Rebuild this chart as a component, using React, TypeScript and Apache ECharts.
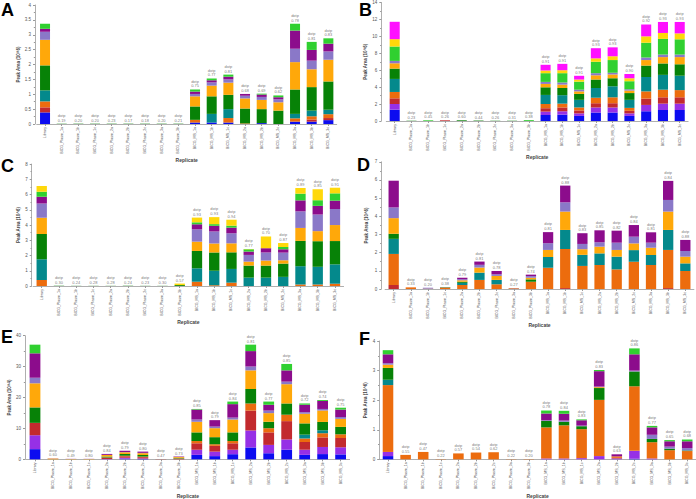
import React, { useEffect, useRef } from "react";
import * as echarts from "echarts";

const categories = [
  "Library",
  "BICG_Plasm_1a", "BICG_Plasm_1b", "BICG_Plasm_1c", "BICG_Plasm_2a",
  "BICG_Plasm_2b", "BICG_Plasm_2c", "BICG_Plasm_3a", "BICG_Plasm_3b",
  "BICG_MS_1a", "BICG_MS_1b", "BICG_MS_1c", "BICG_MS_2a", "BICG_MS_2b",
  "BICG_MS_2c", "BICG_MS_3a", "BICG_MS_3b", "BICG_MS_3c",
];

const COLORS: Record<string, string> = {
  blue: "#0c0cf0", violet: "#9630e6", red: "#c22a2e", orange: "#ec6c0e",
  teal: "#04898c", green: "#078207", amber: "#ffa80a", lavender: "#8a78c8",
  purple: "#8c0c8c", lime: "#30d030", gold: "#ffd80a", magenta: "#ff10ff",
};

// Panel A (Peak Area, 0-4)
const A_blue = [0.39, 0, 0, 0, 0, 0, 0, 0, 0, 0.05, 0.05, 0.05, 0, 0.03, 0, 0.08, 0.08, 0.13];
const A_red = [0.17, 0, 0, 0, 0, 0, 0, 0, 0, 0, 0, 0, 0, 0, 0, 0, 0.07, 0.07];
const A_orange = [0.2, 0, 0, 0, 0, 0, 0, 0, 0, 0.09, 0, 0.15, 0.02, 0, 0, 0.11, 0.11, 0.13];
const A_teal = [0.37, 0, 0, 0, 0, 0, 0, 0, 0, 0, 0.29, 0.3, 0, 0, 0, 0.15, 0.19, 0.15];
const A_green = [0.84, 0.01, 0.01, 0.01, 0.01, 0.01, 0.01, 0.01, 0.01, 0.45, 0.59, 0.48, 0.5, 0.47, 0.45, 0.82, 0.79, 0.95];
const A_amber = [0.86, 0, 0, 0, 0, 0, 0, 0, 0, 0.34, 0.36, 0.41, 0.34, 0.31, 0.28, 0.92, 0.6, 0.73];
const A_lavender = [0.27, 0, 0, 0, 0, 0, 0, 0, 0, 0.08, 0.11, 0.11, 0.09, 0.1, 0.1, 0.45, 0.29, 0.28];
const A_purple = [0.1, 0, 0, 0, 0, 0, 0, 0, 0, 0.08, 0.07, 0.09, 0.06, 0.08, 0.07, 0.61, 0.36, 0.26];
const A_lime = [0.17, 0, 0, 0, 0, 0, 0, 0, 0, 0.07, 0.06, 0.07, 0, 0.03, 0.06, 0.23, 0.27, 0.18];
const A_dotp = [null, 0.19, 0.2, 0.2, 0.23, 0.17, 0.18, 0.2, 0.21, 0.75, 0.77, 0.81, 0.68, 0.69, 0.62, 0.78, 0.81, 0.83];

// Panel B (0-14)
const B_blue = [1.34, 0, 0, 0, 0, 0, 0, 0, 0, 0.71, 0.75, 0.6, 1.0, 1.0, 0.6, 1.15, 1.3, 1.3];
const B_violet = [0.67, 0, 0, 0, 0, 0, 0, 0, 0, 0.4, 0.4, 0.3, 0.6, 0.6, 0.3, 0.75, 0.75, 0.75];
const B_red = [0.67, 0, 0, 0.08, 0, 0, 0, 0, 0, 0.4, 0.45, 0.35, 0.5, 0.5, 0.3, 0.75, 0.75, 0.75];
const B_orange = [0.75, 0, 0, 0, 0, 0, 0, 0, 0, 0.5, 0.45, 0.35, 0.65, 0.7, 0.35, 0.85, 0.9, 0.85];
const B_teal = [1.54, 0, 0, 0, 0, 0, 0, 0, 0, 1.07, 1.0, 0.9, 1.15, 1.3, 0.95, 1.7, 1.75, 1.7];
const B_green = [1.22, 0.03, 0, 0, 0.08, 0.05, 0.03, 0.03, 0, 0.9, 0.85, 0.7, 1.0, 0.95, 0.8, 1.35, 1.35, 1.35];
const B_amber = [0.63, 0, 0, 0, 0, 0, 0, 0, 0, 0.4, 0.4, 0.3, 0.5, 0.45, 0.3, 0.65, 0.75, 0.85];
const B_lavender = [0.28, 0, 0, 0, 0, 0, 0, 0, 0, 0.24, 0.25, 0.2, 0.25, 0.2, 0.15, 0.3, 0.3, 0.3];
const B_lime = [1.7, 0, 0.08, 0, 0, 0, 0, 0, 0.1, 1.03, 1.1, 0.95, 1.35, 1.5, 0.95, 1.75, 1.85, 1.8];
const B_gold = [0.87, 0, 0, 0, 0, 0, 0, 0, 0, 0.32, 0.35, 0.25, 0.4, 0.45, 0.35, 0.75, 0.7, 0.7];
const B_magenta = [2.05, 0, 0, 0, 0, 0, 0, 0, 0, 0.67, 0.75, 0.44, 1.2, 1.05, 0.5, 1.4, 1.3, 1.35];
const B_dotp = [null, 0.23, 0.45, 0.26, 0.6, 0.44, 0.26, 0.31, 0.38, 0.91, 0.91, 0.91, 0.93, 0.93, 0.9, 0.92, 0.93, 0.93];

// Panel C (0-8)
const C_orange = [0.39, 0, 0, 0, 0, 0, 0, 0, 0, 0.28, 0.05, 0.22, 0, 0, 0, 0.1, 0.1, 0.15];
const C_teal = [1.36, 0, 0, 0, 0, 0, 0, 0, 0, 0.88, 0.95, 0.9, 0.55, 0.55, 0.6, 1.2, 1.16, 1.27];
const C_green = [1.66, 0.01, 0.01, 0.01, 0.01, 0.01, 0.01, 0.01, 0.06, 1.14, 1.2, 1.09, 0.79, 0.79, 0.87, 1.66, 1.68, 1.53];
const C_amber = [1.07, 0, 0, 0, 0, 0, 0, 0, 0, 0.61, 0.59, 0.59, 0.26, 0.33, 0.22, 0.85, 0.66, 1.05];
const C_lavender = [0.94, 0, 0, 0, 0, 0, 0, 0, 0, 0.81, 0.79, 0.66, 0.44, 0.53, 0.5, 1.09, 1.09, 1.05];
const C_purple = [0.44, 0, 0, 0, 0, 0, 0, 0, 0, 0.33, 0.37, 0.37, 0.22, 0.28, 0.22, 0.72, 0.57, 0.55];
const C_lime = [0.33, 0, 0, 0, 0, 0, 0, 0, 0, 0.13, 0.11, 0.13, 0.15, 0, 0.15, 0.44, 0.37, 0.48];
const C_gold = [0.37, 0, 0, 0, 0, 0, 0, 0, 0.1, 0.31, 0.46, 0.39, 0.02, 0.77, 0.26, 0.37, 0.72, 0.37];
const C_dotp = [null, 0.3, 0.24, 0.28, 0.28, 0.24, 0.23, 0.3, 0.57, 0.93, 0.93, 0.94, 0.77, 0.7, 0.87, 0.89, 0.85, 0.91];

// Panel D (0-7)
const D_red = [0.22, 0, 0, 0, 0, 0, 0, 0, 0, 0, 0.05, 0, 0, 0, 0, 0, 0.05, 0];
const D_orange = [1.71, 0.09, 0.02, 0.08, 0.22, 0.5, 0.26, 0.04, 0.4, 1.17, 2.15, 1.27, 1.32, 1.08, 1.5, 1.32, 2.1, 0.99];
const D_teal = [0.83, 0, 0, 0, 0.12, 0.4, 0.24, 0, 0, 0.59, 1.05, 0.61, 0.64, 0.7, 0.64, 0.55, 1.1, 0.42];
const D_green = [0.28, 0, 0, 0.02, 0.06, 0, 0, 0, 0.13, 0, 0, 0, 0, 0, 0, 0, 0, 0];
const D_amber = [0.86, 0, 0, 0, 0.08, 0.28, 0.22, 0, 0.09, 0.39, 1.01, 0.31, 0.37, 0.37, 0.37, 0.4, 1.01, 0.37];
const D_lavender = [0.59, 0, 0.05, 0.01, 0.06, 0.15, 0.09, 0.02, 0.09, 0.37, 0.51, 0.29, 0.24, 0.4, 0.37, 0.28, 0.64, 0.31];
const D_purple = [1.47, 0, 0, 0, 0.08, 0.18, 0.18, 0, 0.08, 0.61, 0.92, 0.59, 0.66, 0.66, 0.64, 0.57, 1.05, 0.61];
const D_dotp = [null, 0.33, 0.2, 0.38, 0.79, 0.81, 0.78, 0.27, 0.74, 0.81, 0.88, 0.83, 0.85, 0.82, 0.84, 0.81, 0.84, 0.88];

// Panel E (0-40)
const E_blue = [3.3, 0, 0, 0, 0, 0.2, 0.1, 0, 0, 1.45, 1.04, 1.66, 3.84, 1.97, 3.12, 1.45, 1.7, 1.6];
const E_violet = [4.5, 0, 0, 0, 0.1, 0.3, 0.2, 0, 0, 1.66, 1.45, 1.45, 5.5, 2.7, 3.32, 1.66, 2.3, 2.3];
const E_red = [4.0, 0, 0, 0, 0.4, 0.5, 0.4, 0, 0.2, 2.08, 1.87, 2.08, 6.44, 4.05, 5.92, 2.49, 3.1, 3.0];
const E_orange = [0, 0, 0, 0, 0.1, 0.2, 0.2, 0, 0.1, 0.73, 0.52, 0.73, 2.29, 1.35, 2.08, 1.14, 1.35, 1.2];
const E_teal = [0, 0, 0, 0, 0, 0, 0, 0, 0, 0, 0, 0, 0, 0, 0, 1.25, 0.95, 0];
const E_green = [5.0, 0, 0, 0, 0.3, 0.5, 0.5, 0, 0.2, 2.8, 2.29, 2.8, 4.68, 2.08, 3.64, 3.64, 2.7, 2.4];
const E_amber = [7.8, 0.25, 0.1, 0.1, 0.5, 0.6, 0.6, 0.05, 0.25, 3.43, 2.91, 4.16, 6.03, 2.8, 6.23, 3.12, 3.7, 2.6];
const E_lavender = [1.8, 0, 0, 0, 0.05, 0.1, 0.1, 0, 0, 0.73, 0.52, 0.62, 1.25, 0.83, 0.83, 0.52, 0.5, 0.6];
const E_purple = [7.9, 0.05, 0.05, 0.05, 0.3, 0.4, 0.4, 0.05, 0.15, 3.22, 2.08, 4.36, 4.99, 1.87, 3.64, 2.39, 2.6, 2.4];
const E_lime = [2.8, 0, 0, 0, 0, 0, 0, 0, 0, 0.2, 0, 0.83, 2.08, 1.04, 2.08, 0.42, 0.3, 0.6];
const E_dotp = [null, 0.6, 0.49, 0.8, 0.84, 0.79, 0.8, 0.47, 0.73, 0.85, 0.79, 0.84, 0.81, 0.77, 0.85, 0.72, 0.74, 0.75];

// Panel F (0-4)
const F_blue = [0.11, 0, 0, 0, 0, 0, 0, 0, 0, 0, 0, 0, 0, 0, 0.02, 0, 0, 0];
const F_violet = [0.14, 0, 0, 0, 0, 0, 0, 0, 0, 0.03, 0.03, 0.04, 0.11, 0.03, 0.27, 0.03, 0, 0];
const F_red = [0, 0, 0, 0, 0, 0, 0, 0, 0, 0, 0, 0, 0, 0.02, 0, 0, 0, 0];
const F_orange = [2.26, 0.15, 0.25, 0.01, 0.2, 0.23, 0.24, 0.01, 0.01, 1.05, 1.12, 0.98, 1.9, 0.05, 2.18, 0.55, 0.31, 0.28];
const F_teal = [0.18, 0, 0, 0, 0, 0, 0, 0, 0, 0, 0, 0, 0, 0, 0, 0, 0, 0];
const F_green = [0.4, 0, 0, 0, 0, 0, 0, 0, 0, 0.22, 0.12, 0.1, 0.4, 0, 0.5, 0.11, 0.05, 0.02];
const F_amber = [0.11, 0, 0, 0, 0, 0, 0, 0, 0, 0, 0, 0, 0.03, 0, 0, 0, 0, 0];
const F_lavender = [0.05, 0, 0, 0, 0, 0, 0, 0, 0, 0.02, 0.04, 0.02, 0.02, 0, 0.03, 0.14, 0.07, 0.08];
const F_purple = [0.3, 0, 0, 0, 0, 0, 0, 0, 0, 0.23, 0.23, 0.18, 0.52, 0.07, 0.55, 0.25, 0.18, 0.23];
const F_lime = [0.14, 0, 0, 0, 0, 0, 0, 0, 0, 0.1, 0.1, 0.03, 0.04, 0, 0.2, 0.05, 0.04, 0.06];
const F_dotp = [null, 0.55, 0.47, 0.22, 0.57, 0.54, 0.62, 0.22, 0.2, 0.78, 0.84, 0.83, 0.83, 0.63, 0.86, 0.77, 0.65, 0.68];

const PANEL_LETTERS = ["A", "B", "C", "D", "E", "F"];
const Y_MAX = [4, 14, 8, 7, 40, 4];
const Y_INTERVAL = [0.5, 2, 1, 1, 10, 1];
const Y_TITLES = ["Peak Area (10^6)", "Peak Area (10^6)", "Peak Area (10^6)", "Peak Area (10^6)", "Peak Area (10^4)", "Peak Area (10^6)"];

const PANEL_SERIES: [string, number[]][][] = [
  [["blue", A_blue], ["red", A_red], ["orange", A_orange], ["teal", A_teal], ["green", A_green], ["amber", A_amber], ["lavender", A_lavender], ["purple", A_purple], ["lime", A_lime]],
  [["blue", B_blue], ["violet", B_violet], ["red", B_red], ["orange", B_orange], ["teal", B_teal], ["green", B_green], ["amber", B_amber], ["lavender", B_lavender], ["lime", B_lime], ["gold", B_gold], ["magenta", B_magenta]],
  [["orange", C_orange], ["teal", C_teal], ["green", C_green], ["amber", C_amber], ["lavender", C_lavender], ["purple", C_purple], ["lime", C_lime], ["gold", C_gold]],
  [["red", D_red], ["orange", D_orange], ["teal", D_teal], ["green", D_green], ["amber", D_amber], ["lavender", D_lavender], ["purple", D_purple]],
  [["blue", E_blue], ["violet", E_violet], ["red", E_red], ["orange", E_orange], ["teal", E_teal], ["green", E_green], ["amber", E_amber], ["lavender", E_lavender], ["purple", E_purple], ["lime", E_lime]],
  [["blue", F_blue], ["violet", F_violet], ["red", F_red], ["orange", F_orange], ["teal", F_teal], ["green", F_green], ["amber", F_amber], ["lavender", F_lavender], ["purple", F_purple], ["lime", F_lime]],
];
const PANEL_DOTP = [A_dotp, B_dotp, C_dotp, D_dotp, E_dotp, F_dotp];

// layout (pixels): grid left, top, width, height; axis offset; letter position; x-name gap
const LAYOUT = [
  { left: 36.7, top: 5, width: 300, height: 119, off: 1.7, lx: 1, ly: 1, xGap: 30, yGap: 12 },
  { left: 386.3, top: 2.4, width: 301.8, height: 118.6, off: 5, lx: 359, ly: 1, xGap: 30, yGap: 13 },
  { left: 33.1, top: 164.1, width: 310.5, height: 121.9, off: 1.4, lx: 1, ly: 157, xGap: 32, yGap: 11 },
  { left: 385.1, top: 161.8, width: 308.8, height: 127.2, off: 3.8, lx: 357, ly: 156, xGap: 32, yGap: 12 },
  { left: 26, top: 335.7, width: 323.6, height: 128.3, off: 1, lx: 1, ly: 328, xGap: 32, yGap: 11 },
  { left: 379.2, top: 341, width: 317.6, height: 124, off: 0, lx: 359, ly: 330, xGap: 30, yGap: 11 },
];

const AXIS_COLOR = "#9a9a9a";
const TEXT_COLOR = "#555";

function buildOption() {
  const grid: any[] = [];
  const xAxis: any[] = [];
  const yAxis: any[] = [];
  const series: any[] = [];
  const graphic: any[] = [];

  LAYOUT.forEach((L, p) => {
    grid.push({ left: L.left, top: L.top, width: L.width, height: L.height, containLabel: false });
    xAxis.push({
      type: "category",
      gridIndex: p,
      data: categories,
      name: "Replicate",
      nameLocation: "middle",
      nameGap: L.xGap,
      nameTextStyle: { fontSize: 5, fontWeight: "bold", color: "#444", fontFamily: "Arial" },
      axisLine: { show: true, lineStyle: { color: AXIS_COLOR, width: 0.8 } },
      axisTick: { show: true, length: 2, alignWithLabel: true, lineStyle: { color: AXIS_COLOR } },
      axisLabel: { rotate: 90, interval: 0, fontSize: 3.6, color: TEXT_COLOR, margin: 3, fontFamily: "Arial" },
    });
    yAxis.push({
      type: "value",
      gridIndex: p,
      min: 0,
      max: Y_MAX[p],
      interval: Y_INTERVAL[p],
      offset: L.off,
      name: Y_TITLES[p],
      nameLocation: "middle",
      nameGap: L.yGap,
      nameRotate: 90,
      nameTextStyle: { fontSize: 4.5, fontWeight: "bold", color: "#444", fontFamily: "Arial" },
      axisLine: { show: true, lineStyle: { color: AXIS_COLOR, width: 0.8 } },
      axisTick: { show: true, length: 2, lineStyle: { color: AXIS_COLOR } },
      minorTick: { show: true, splitNumber: 2, length: 1.2, lineStyle: { color: AXIS_COLOR } },
      splitLine: { show: false },
      axisLabel: { fontSize: 4.5, color: TEXT_COLOR, margin: 4, fontFamily: "Arial" },
    });

    const segs = PANEL_SERIES[p];
    segs.forEach(([key, vals]) => {
      series.push({
        type: "bar",
        name: PANEL_LETTERS[p] + "_" + key,
        xAxisIndex: p,
        yAxisIndex: p,
        stack: "s" + p,
        data: vals,
        barCategoryGap: "40%",
        itemStyle: { color: COLORS[key] },
        emphasis: { disabled: true },
      });
    });
    const dotp = PANEL_DOTP[p];
    series.push({
      type: "scatter",
      xAxisIndex: p,
      yAxisIndex: p,
      symbolSize: 0.5,
      itemStyle: { color: "rgba(0,0,0,0)" },
      z: 10,
      data: categories.map((_, i) => {
        if (dotp[i] == null) return null;
        let total = 0;
        segs.forEach(([, v]) => (total += v[i]));
        return [i, total];
      }),
      label: {
        show: true,
        position: "top",
        distance: 1,
        fontSize: 4,
        lineHeight: 4.6,
        color: TEXT_COLOR,
        fontFamily: "Arial",
        align: "center",
        formatter: (prm: any) => "dotp\n" + (dotp[prm.dataIndex] as number).toFixed(2),
      },
    });

    graphic.push({
      type: "text",
      left: L.lx,
      top: L.ly,
      style: { text: PANEL_LETTERS[p], fontSize: 18, fontWeight: "bold", fill: "#000", fontFamily: "Arial" },
    });
  });

  return { animation: false, backgroundColor: "#fff", grid, xAxis, yAxis, series, graphic };
}

export default function App() {
  const ref = useRef<HTMLDivElement>(null);
  useEffect(() => {
    if (!ref.current) return;
    const chart = echarts.init(ref.current, undefined, { renderer: "svg" });
    chart.setOption(buildOption() as any);
    return () => chart.dispose();
  }, []);
  return (
    <div
      ref={ref}
      style={{ position: "fixed", left: 0, top: 0, width: 696, height: 499, background: "#fff" }}
    />
  );
}
